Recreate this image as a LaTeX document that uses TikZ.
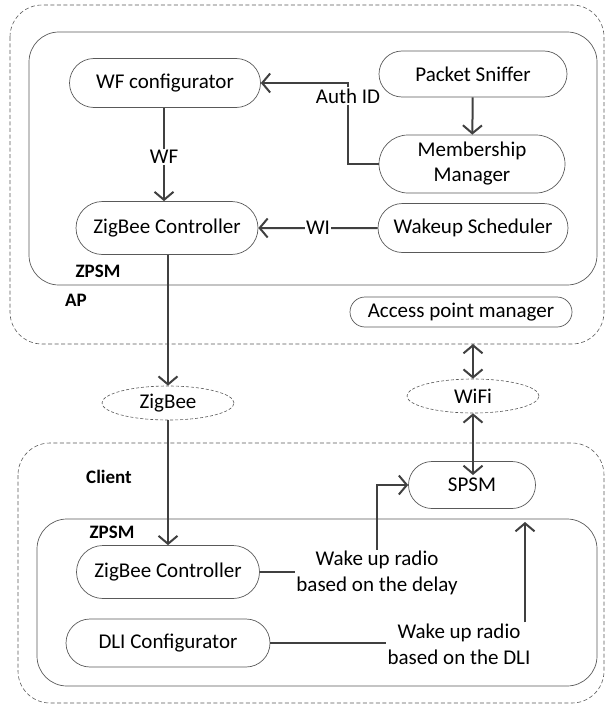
\documentclass[tikz,border=0pt]{standalone}
\usepackage{fontspec}
\setmainfont{Carlito}
\usetikzlibrary{shapes.misc,shapes.geometric,arrows.meta}
\definecolor{linegray}{HTML}{404040}
\definecolor{edgegray}{HTML}{595959}
\tikzset{
  block/.style={rounded rectangle, draw=edgegray, line width=0.7pt, align=center,
    inner sep=2pt, font=\fontsize{21}{25}\selectfont},
  radio/.style={ellipse, draw=edgegray, line width=0.6pt, dash pattern=on 3pt off 2pt,
    minimum width=132pt, minimum height=34pt, inner sep=0pt, font=\fontsize{21}{24}\selectfont},
  zone/.style={draw=edgegray, line width=0.6pt, dash pattern=on 4pt off 2.5pt, rounded corners=32pt},
  layer/.style={draw=edgegray, line width=0.7pt, rounded corners=30pt},
  tag/.style={font=\fontsize{19}{22}\selectfont\bfseries, inner sep=1pt},
  note/.style={font=\fontsize{21}{26}\selectfont, align=center, inner sep=1pt},
  link/.style={draw=linegray, line width=2pt},
  arr/.style={link, -{Straight Barb[length=8pt,width=19pt]}},
  dblarr/.style={link, {Straight Barb[length=8pt,width=19pt]}-{Straight Barb[length=8pt,width=19pt]}}
}
\begin{document}
\begin{tikzpicture}[x=1pt,y=-1pt]
\useasboundingbox (0,0) rectangle (612,706);
% access point
\draw[zone] (10,5) rectangle (604,344);
\draw[layer] (29,32) rectangle (597,285);
\node[tag] (aplbl) at (76,300) {AP};
\node[tag] (zpsmap) at (98,271) {ZPSM};
\node[block, minimum width=195pt, minimum height=49pt] (wfc) at (165,83) {WF configurator};
\node[block, minimum width=192pt, minimum height=46pt] (sniff) at (473,74) {Packet Sniffer};
\node[block, minimum width=190pt, minimum height=58pt] (member) at (472,164) {Membership\\Manager};
\node[block, minimum width=186pt, minimum height=53pt] (zbap) at (167,228) {ZigBee Controller};
\node[block, minimum width=194pt, minimum height=49pt] (wake) at (473,228) {Wakeup Scheduler};
\node[block, minimum width=226pt, minimum height=30pt] (apm) at (461,312) {Access point manager};
\node[note] (authid) at (348,96) {Auth ID};
\node[note] (wflbl) at (164,157) {WF};
\draw[arr] (authid.north) |- (wfc.east);
\draw[link] (authid.south) |- (member.west);
\draw[arr] (sniff) -- (member);
\draw[link] (wfc.south -| wflbl) -- (wflbl.north);
\draw[arr] (wflbl.south) -- (wflbl.south |- zbap.north);
\draw[arr] (wake) -- node[fill=white, font=\fontsize{21}{24}\selectfont, inner sep=1pt] {WI} (zbap);
% radio links
\node[radio] (zigbee) at (168,403) {ZigBee};
\node[radio] (wifi) at (473,396) {WiFi};
\coordinate (apedge) at (473,344);
\draw[arr] (zbap.south -| zigbee) -- (zigbee.north);
\draw[dblarr] (apedge) -- (wifi.north);
% client
\draw[zone] (18,443) rectangle (604,703);
\draw[layer] (37,519) rectangle (597,686);
\node[tag] (clientlbl) at (109,477) {Client};
\node[tag] (zpsmcl) at (112,532) {ZPSM};
\node[block, minimum width=131pt, minimum height=47pt] (spsm) at (472,485) {SPSM};
\node[block, minimum width=187pt, minimum height=53pt] (zbcl) at (168,572) {ZigBee Controller};
\node[block, minimum width=208pt, minimum height=48pt] (dli) at (168,643) {DLI Configurator};
\node[note] (delay) at (377,573) {Wake up radio\\based on the delay};
\node[note] (dlitxt) at (459,644) {Wake up radio\\based on the DLI};
\coordinate (spsmin) at (473,475);
\coordinate (dlitip) at (525,522);
\draw[arr] (zigbee.south) -- (zigbee.south |- zbcl.north);
\draw[dblarr] (wifi.south) -- (spsmin);
\draw[link] (zbcl.east) -- (delay.west |- zbcl.east);
\draw[arr] (delay.north) |- (spsm.west);
\draw[link] (dli.east) -- (dlitxt.west |- dli.east);
\draw[arr] (dlitxt.north -| dlitip) -- (dlitip);
\end{tikzpicture}
\end{document}
